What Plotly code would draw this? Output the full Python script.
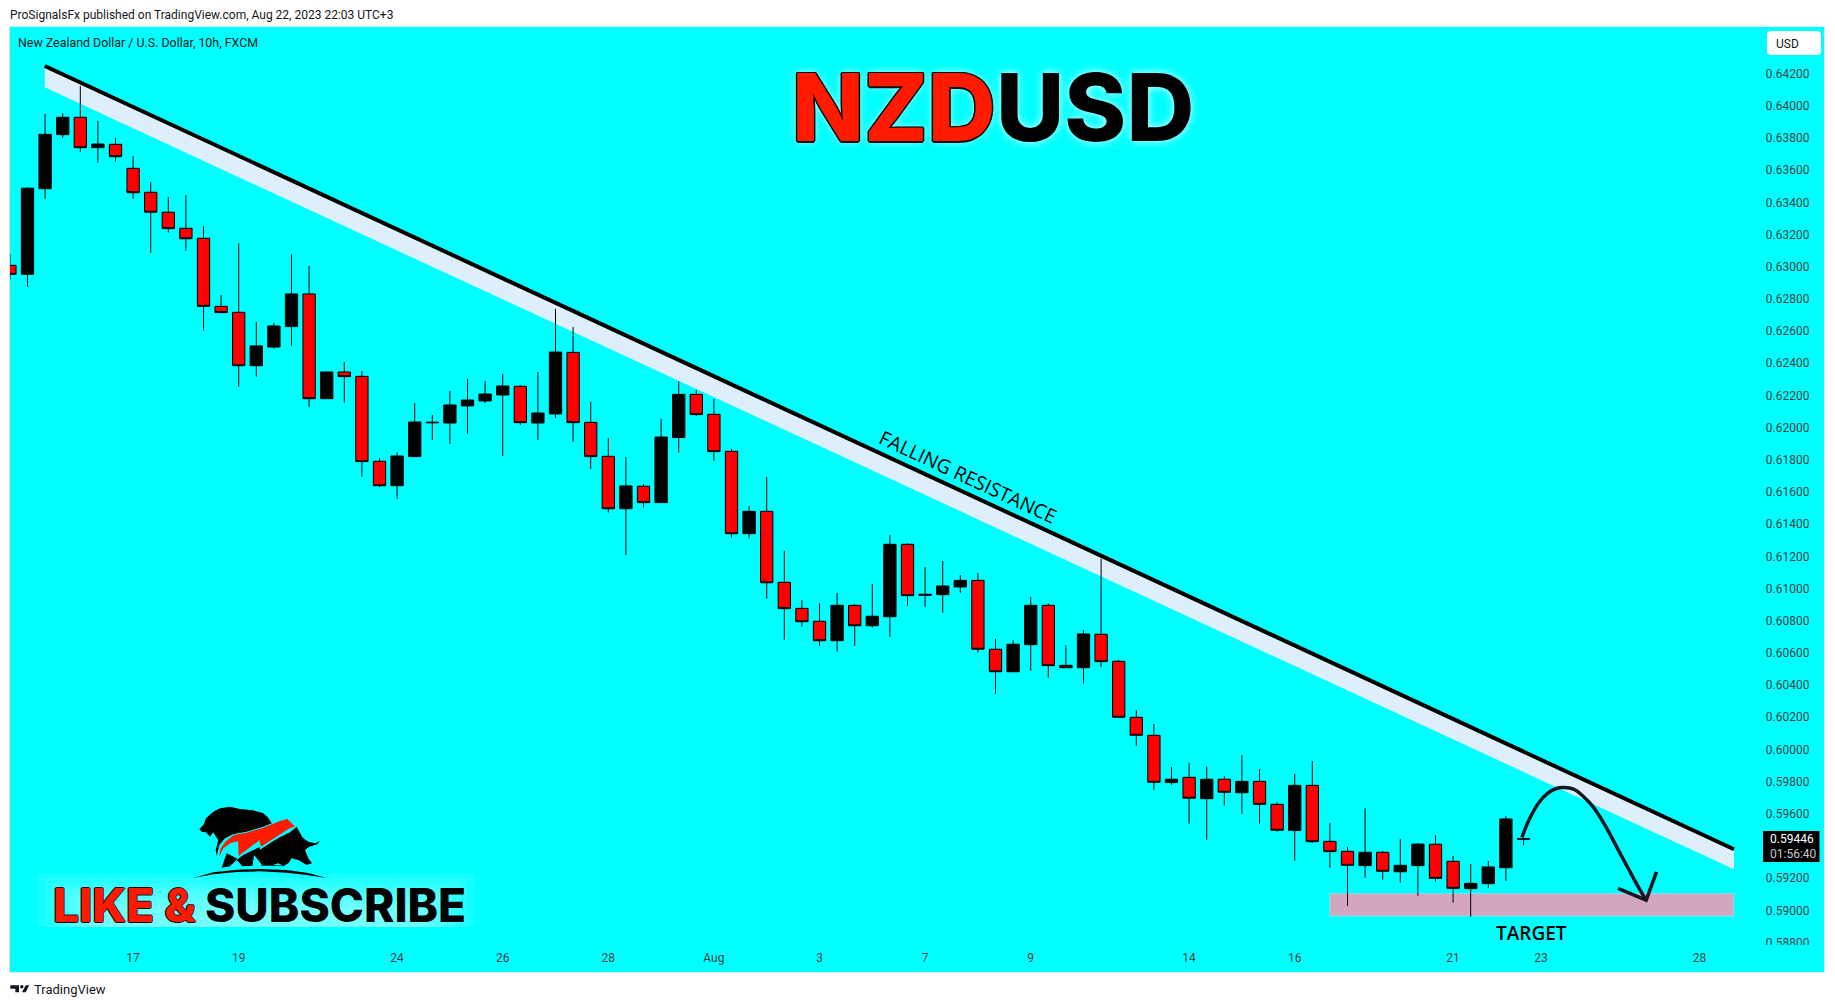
import plotly.graph_objects as go

# ---- data (prices in 1e-5 units) ----
opens = [63009,62953,63485,63821,63929,63740,63761,63612,63463,63339,63239,63177,62754,62717,62385,62501,62628,62831,62180,62346,
62319,61791,61639,61820,62030,62029,62135,62166,62203,62257,62029,62085,62468,62033,61822,61496,61636,61534,61938,62207,
62083,61853,61341,61480,61039,60877,60797,60676,60896,60769,60825,61275,60958,60962,61010,61051,60623,60483,60651,60896,
60523,60508,60716,60548,60200,60088,59794,59827,59694,59815,59731,59802,59659,59496,59777,59429,59367,59278,59361,59240,
59278,59411,59305,59135,59166,59265,59442]
highs = [63079,63494,63950,63954,64124,63906,63800,63688,63527,63434,63446,63253,62825,63146,62657,62651,63079,63005,62346,62408,
62352,61812,61849,62153,62079,62228,62303,62290,62334,62265,62346,62738,62626,62160,61936,61818,61650,62054,62287,62234,
62178,61868,61513,61694,61234,60929,60910,60972,60904,61028,61333,61281,61134,61171,61084,61097,60687,60679,60948,60908,
60647,60743,61186,60556,60245,60158,59891,59916,59895,59835,59966,59877,59672,59848,59928,59543,59394,59634,59369,59444,
59419,59468,59338,59288,59307,59587,59479]
lows = [62922,62876,63423,63802,63715,63647,63653,63423,63087,63212,63100,62603,62715,62255,62317,62491,62508,62130,62180,62155,
61695,61631,61557,61820,61923,61899,61961,62153,61824,62017,61923,62060,61911,61743,61472,61209,61503,61534,61845,62074,
61793,61316,61310,60937,60682,60763,60645,60608,60645,60757,60699,60894,60887,60850,60974,60602,60347,60483,60490,60446,
60508,60409,60514,60200,60023,59750,59781,59539,59439,59651,59601,59539,59489,59309,59419,59265,59029,59203,59191,59172,
59091,59178,59048,58961,59141,59183,59406]
closes = [62953,63488,63823,63929,63740,63763,63684,63460,63339,63237,63174,62754,62715,62385,62508,62632,62831,62180,62346,62317,
61789,61639,61824,62035,62033,62141,62172,62209,62259,62031,62091,62470,62031,61820,61496,61638,61534,61942,62207,62081,
61851,61341,61480,61036,60875,60794,60676,60896,60769,60828,61275,60956,60964,61016,61051,60623,60483,60654,60896,60521,
60508,60718,60546,60200,60088,59796,59815,59697,59815,59734,59802,59659,59498,59777,59427,59365,59280,59361,59243,59280,
59412,59199,59137,59168,59270,59568,59446]

tick_idx = [7,13,22,28,34,40,46,52,58,67,73,82,87,96]
tick_txt = ["17","19","24","26","28","Aug","3","7","9","14","16","21","23","28"]
price_ticks = [0.588,0.59,0.592,0.596,0.598,0.6,0.602,0.604,0.606,0.608,0.61,0.612,0.614,0.616,0.618,0.62,0.622,0.624,0.626,0.628,0.63,0.632,0.634,0.636,0.638,0.64,0.642]

trend_x = [1.98, 97.96]
trend_y = [0.64248, 0.59380]
band_low_y = [0.64115, 0.59255]
target_x = [75.0, 97.95]
target_y = [0.59104, 0.58965]
curve_x = [85.91,86.31,86.85,87.38,87.91,88.31,88.84,89.37,89.91,90.57,91.24,91.9,92.57,92.97]
curve_y = [0.59454,0.59562,0.59666,0.59728,0.59759,0.59763,0.59753,0.59711,0.59649,0.59541,0.59406,0.59271,0.59137,0.59064]
head_x = [91.37,92.97,93.56]
head_y = [0.59137,0.59064,0.59239]

W, H = 1835, 1008
L, R, T, B = 10, 1824, 27, 972
def px(x): return (x-L)/(R-L)
def py(y): return (B-y)/(B-T)
def path(pts):
    return "M" + " L".join(f"{px(a):.5f},{py(b):.5f}" for a,b in pts) + " Z"
def zpath(pts, x0=180, y0=795):
    return path([(x0+a/3, y0+b/3) for a,b in pts])

scale = 1e-5
fig = go.Figure()
xs = list(range(len(opens)))
fig.add_trace(go.Candlestick(x=xs, open=[v*scale for v in opens], high=[v*scale for v in highs],
    low=[v*scale for v in lows], close=[v*scale for v in closes], whiskerwidth=0,
    increasing=dict(fillcolor="#000000", line=dict(color="#000000", width=1)),
    decreasing=dict(fillcolor="#ff0000", line=dict(color="#000000", width=1)), hoverinfo="skip"))
fig.add_trace(go.Scatter(x=trend_x, y=trend_y, mode="lines", line=dict(color="#000000", width=4), hoverinfo="skip"))
fig.add_trace(go.Scatter(x=curve_x, y=curve_y, mode="lines", line=dict(color="#131722", width=3.5, shape="spline"), hoverinfo="skip"))
fig.add_trace(go.Scatter(x=head_x, y=head_y, mode="lines", line=dict(color="#131722", width=3.5), hoverinfo="skip"))

shapes = []
shapes.append(dict(type="path", xref="x", yref="y", layer="below", line=dict(width=0), fillcolor="#dfeefb",
    path=f"M{trend_x[0]},{trend_y[0]} L{trend_x[1]},{trend_y[1]} L{trend_x[1]},{band_low_y[1]} L{trend_x[0]},{band_low_y[0]} Z"))
shapes.append(dict(type="rect", xref="x", yref="y", layer="below", x0=target_x[0], x1=target_x[1], y0=target_y[0], y1=target_y[1],
    fillcolor="#d4a5bf", line=dict(color="#8fd8e8", width=1)))
# logo glow
for k in range(8):
    shapes.append(dict(type="rect", xref="paper", yref="paper", layer="below",
        x0=px(37+k*8), x1=px(475-k*8), y0=py(927), y1=py(873+k*5),
        fillcolor="rgba(255,255,255,0.075)", line=dict(width=0)))
def pshape(p, col): return dict(type="path", xref="paper", yref="paper", layer="above", path=p, fillcolor=col, line=dict(width=0))
# bear
shapes.append(pshape(zpath([(58,102),(70,90),(78,70),(100,50),(120,40),(150,35),(180,42),(220,46),(250,55),(265,68),(276,86),(240,100),(200,112),(160,118),(135,130),(118,150),(110,182),(107,165),(115,135),(108,125),(100,112),(90,125),(78,112),(65,110)]), "#000"))
# bull
shapes.append(pshape(zpath([(125,218),(140,175),(170,190),(240,155),(330,112),(350,95),(368,128),(385,140),(405,145),(420,138),(412,148),(388,155),(375,165),(385,190),(396,205),(380,210),(355,195),(335,190),(325,205),(310,214),(275,212),(245,212),(222,180),(218,212),(185,214),(170,195),(150,214)]), "#000"))
shapes.append(pshape(zpath([(150,212),(172,197),(186,212)]), "#00ffff"))
shapes.append(pshape(zpath([(218,210),(224,182),(246,210)]), "#00ffff"))
shapes.append(pshape(zpath([(278,210),(295,205),(310,212)]), "#00ffff"))
# ground arc
shapes.append(pshape(zpath([(38,249),(100,232),(170,224),(240,222),(320,225),(385,234),(440,249),(380,240),(320,233),(240,229),(170,231),(100,238)]), "#000"))
# red swoosh
shapes.append(pshape(zpath([(112,192),(118,160),(135,135),(160,118),(200,110),(250,95),(300,75),(325,68),(350,92),(240,164),(236,142),(170,195),(172,142),(150,148),(128,165)]), "#00ffff"))
shapes.append(pshape(zpath([(117,186),(122,160),(138,138),(162,120),(200,113),(250,98),(300,78),(322,72),(338,88),(345,94),(325,102),(243,155),(238,136),(176,183),(174,139),(152,144),(130,160)]), "#ff1a00"))
# USD button
ux0,ux1,uy0,uy1 = 1767,1821,31,55
shapes.append(dict(type="path", xref="paper", yref="paper", fillcolor="#ffffff", line=dict(width=0),
    path=path([(ux0+3,uy0),(ux1-3,uy0),(ux1-1,uy0+1),(ux1,uy0+3),(ux1,uy1-3),(ux1-1,uy1-1),(ux1-3,uy1),(ux0+3,uy1),(ux0+1,uy1-1),(ux0,uy1-3),(ux0,uy0+3),(ux0+1,uy0+1)])))
# price box
shapes.append(dict(type="rect", xref="paper", yref="paper", layer="above", x0=px(1763), x1=px(1819.5), y0=py(831), y1=py(862), fillcolor="#000000", line=dict(width=0)))
# the lowest price label is cut by the end of the price scale
shapes.append(dict(type="rect", xref="paper", yref="paper", layer="above", x0=px(1765), x1=px(1820), y0=py(945), y1=py(955), fillcolor="#00ffff", line=dict(width=0)))
# TradingView mark
tv = lambda pts: path([(a/3, 975+b/3) for a,b in pts])
shapes.append(dict(type="path", xref="paper", yref="paper", fillcolor="#131722", line=dict(width=0), path=tv([(31,31),(57,31),(57,52),(46,52),(46,41),(31,41)])))
shapes.append(dict(type="path", xref="paper", yref="paper", fillcolor="#131722", line=dict(width=0), path=tv([(66,52),(77,31),(88,31),(77,52)])))
shapes.append(dict(type="circle", xref="paper", yref="paper", fillcolor="#131722", line=dict(width=0), x0=px(20), x1=px(23.5), y0=py(988.5), y1=py(985)))

anns = []
def text(x, y, s, size, color="#131722", family="Roboto", xa="left", weight=None, angle=0, shadow=None):
    f = dict(size=size, color=color, family=family)
    if weight: f["weight"] = weight
    if shadow: f["shadow"] = shadow
    anns.append(dict(x=px(x), y=py(y), xref="paper", yref="paper", text=s, showarrow=False, xanchor=xa, yanchor="middle",
                     font=f, textangle=angle, borderpad=0, borderwidth=0))
outline = "1.5px 0 0 #111,-1.5px 0 0 #111,0 1.5px 0 #111,0 -1.5px 0 #111,1px 1px 0 #111,-1px -1px 0 #111,1px -1px 0 #111,-1px 1px 0 #111,0 0 9px #dff"
text(10, 15, "ProSignalsFx published on TradingView.com, Aug 22, 2023 22:03 UTC+3", 12)
text(18, 42, "New Zealand Dollar / U.S. Dollar, 10h, FXCM", 12.4)
text(1776, 44, "USD", 12)
text(1770, 839, "0.59446", 12, "#ffffff")
text(1770, 854, "01:56:40", 12, "#c8c8c8")
text(33.5, 990, "TradingView", 13)
text(996, 107, "NZD", 94, "#ff1a00", "Inter", "right", 800, shadow=outline)
text(996, 107, "USD", 94, "#000000", "Inter", "left", 800, shadow="0 0 9px #dff")
text(53, 905, "LIKE &amp;", 46, "#ff1a00", "Inter", "left", 800, shadow="1px 0 0 #111,-1px 0 0 #111,0 1px 0 #111,0 -1px 0 #111")
text(205, 905, "SUBSCRIBE", 46, "#000000", "Inter", "left", 800)
text(968, 476, "FALLING RESISTANCE", 19.5, "#000000", "Open Sans", "center", angle=25)
text(1531, 933, "TARGET", 19, "#000000", "Open Sans", "center", 600)

fig.update_layout(width=W, height=H, margin=dict(l=L, r=W-R, t=T, b=H-B, pad=0), paper_bgcolor="#ffffff", plot_bgcolor="#00ffff",
    showlegend=False, shapes=shapes, annotations=anns, hovermode=False,
    font=dict(family="Roboto", size=12, color="#131722"),
    boxgap=0.3, boxgroupgap=0,
    xaxis=dict(range=[(L-9.9)/17.6, (R-9.9)/17.6], showgrid=False, zeroline=False, rangeslider=dict(visible=False),
        tickmode="array", tickvals=tick_idx, ticktext=tick_txt, ticklabelposition="inside", ticks="", ticklabelstandoff=7,
        showline=True, linecolor="#d6f5f5", linewidth=1, mirror=True),
    yaxis=dict(range=[0.58617, 0.64490], side="right", showgrid=False, zeroline=False, tickmode="array", tickvals=price_ticks,
        tickformat=".5f", ticklabelposition="inside", ticks="", ticklabelstandoff=14,
        showline=True, linecolor="#d9dde6", linewidth=1, mirror=True))
fig.write_html("out.html", config=dict(displayModeBar=False), post_script="document.body.style.margin='0';document.body.style.overflow='hidden';")
